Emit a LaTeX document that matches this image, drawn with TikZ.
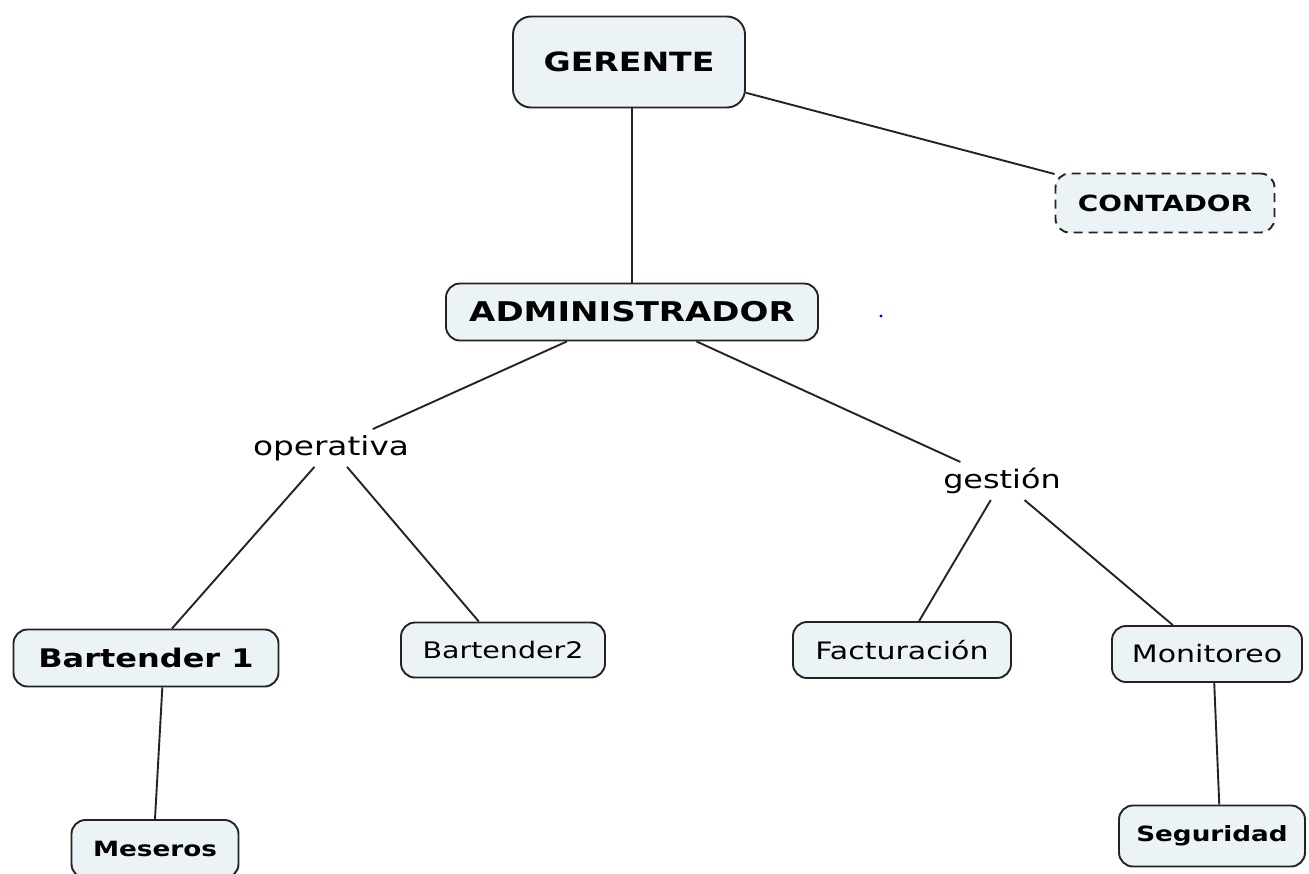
\documentclass[tikz,border=0pt]{standalone}
\usepackage{fontspec}
\setmainfont{DejaVu Sans}[FakeStretch=1.25]
\usepackage{xcolor}
\usepackage{tikz}
\usetikzlibrary{positioning}
\definecolor{mfill}{RGB}{236,243,246}
\definecolor{mline}{RGB}{35,35,35}
\tikzset{
  box/.style   ={rectangle, rounded corners=14pt, draw=mline, fill=mfill,
                 line width=1.9pt, inner sep=0pt, align=center},
  bbox/.style  ={box, font=\bfseries},
  lbl/.style   ={inner sep=6pt, font=\fontsize{26}{30}\selectfont},
  ln/.style    ={draw=mline, line width=1.9pt}
}
\begin{document}
\begin{tikzpicture}[x=1pt, y=1pt]
\useasboundingbox (0,0) rectangle (1309,-873);
% top level
\node[bbox, rounded corners=18pt, minimum width=232, minimum height=91,
  font=\bfseries\fontsize{26.5}{30}\selectfont] (ger) at (629,-62) {GERENTE};
\node[bbox, dashed, dash pattern=on 9pt off 6pt, minimum width=219, minimum height=59,
  font=\bfseries\fontsize{22.3}{26}\selectfont] (con) at (1165,-203) {CONTADOR};
\node[bbox, minimum width=372, minimum height=57,
  font=\bfseries\fontsize{27.2}{30}\selectfont] (adm) at (632,-312) {ADMINISTRADOR};
% link words
\node[lbl, font=\fontsize{26.2}{30}\selectfont] (ope) at (331,-448) {operativa};
\node[lbl, font=\fontsize{25.5}{30}\selectfont] (ges) at (1002,-481) {gestión};
% second level
\node[bbox, minimum width=265, minimum height=57,
  font=\bfseries\fontsize{25.6}{29}\selectfont] (bt1) at (146,-658) {Bartender 1};
\node[box, minimum width=204, minimum height=55,
  font=\fontsize{22.8}{26}\selectfont] (bt2) at (503,-650) {Bartender2};
\node[box, minimum width=218, minimum height=56,
  font=\fontsize{24}{28}\selectfont] (fac) at (902,-650) {Facturación};
\node[box, minimum width=190, minimum height=56,
  font=\fontsize{24}{28}\selectfont] (mon) at (1207,-654) {Monitoreo};
% third level
\node[bbox, minimum width=167, minimum height=58,
  font=\bfseries\fontsize{21}{25}\selectfont] (mes) at (155,-849) {Meseros};
\node[bbox, minimum width=186, minimum height=61,
  font=\bfseries\fontsize{21}{25}\selectfont] (seg) at (1212,-836) {Seguridad};
% connectors
\draw[ln] (adm.north) -- (adm.north |- ger.south);
\draw[ln] (ger) -- (con);
\draw[ln] (adm) -- (ope);
\draw[ln] (adm) -- (ges);
\draw[ln] (ope) -- (bt1);
\draw[ln] (ope) -- (bt2);
\draw[ln] (ges) -- (fac);
\draw[ln] (ges) -- (mon);
\draw[ln] (bt1.-61) -- (mes.north);
\draw[ln] (mon.-76) -- (seg.77);
% stray dot
\fill[blue] (881,-316) circle (1.6);
\end{tikzpicture}
\end{document}
